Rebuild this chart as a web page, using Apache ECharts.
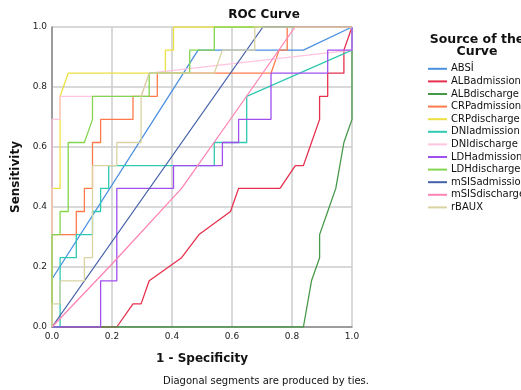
<!DOCTYPE html>
<html>
<head>
<meta charset="utf-8">
<script src="https://cdn.jsdelivr.net/npm/echarts@6/dist/echarts.min.js"></script>
<style>
  html, body { margin: 0; padding: 0; background: #fff; }
  #chart { width: 521px; height: 390px; }
</style>
</head>
<body>
<div id="chart"></div>
<script>
// ROC curves, points are [1 - specificity, sensitivity]
const seriesNames = ['ABSİ', 'ALBadmission', 'ALBdischarge', 'CRPadmission', 'CRPdischarge', 'DNIadmission',
  'DNIdischarge', 'LDHadmission', 'LDHdischarge', 'mSISadmission', 'mSISdischarge', 'rBAUX']
const seriesColors = ['#4a90e2', '#e6304e', '#47994a', '#ff7a4a', '#ece043', '#30c9b2',
  '#ffc4df', '#9f50ee', '#84d650', '#4461aa', '#ff84b6', '#d9d3a2']

const absi = [[0, 0.16], [0.487, 0.923], [0.838, 0.923], [1, 1]]
const albAdmission = [[0, 0], [0.216, 0], [0.27, 0.077], [0.297, 0.077], [0.324, 0.154], [0.432, 0.231],
  [0.49, 0.308], [0.595, 0.385], [0.622, 0.462], [0.76, 0.462], [0.811, 0.538], [0.838, 0.538],
  [0.865, 0.615], [0.892, 0.692], [0.892, 0.769], [0.919, 0.769], [0.919, 0.846], [0.973, 0.846],
  [0.973, 0.923], [1, 1]]
const albDischarge = [[0, 0], [0.838, 0], [0.865, 0.154], [0.892, 0.231], [0.892, 0.308], [0.919, 0.385],
  [0.946, 0.462], [0.973, 0.615], [1, 0.692], [1, 1]]
const crpAdmission = [[0, 0], [0, 0.308], [0.081, 0.308], [0.081, 0.385], [0.108, 0.385], [0.108, 0.462],
  [0.135, 0.462], [0.135, 0.615], [0.162, 0.615], [0.162, 0.692], [0.27, 0.692], [0.27, 0.769],
  [0.351, 0.769], [0.351, 0.846], [0.73, 0.846], [0.757, 0.923], [0.784, 0.923], [0.784, 1], [1, 1]]
const crpDischarge = [[0, 0], [0, 0.462], [0.027, 0.462], [0.027, 0.769], [0.054, 0.846], [0.378, 0.846],
  [0.378, 0.923], [0.405, 0.923], [0.405, 1], [1, 1]]
const dniAdmission = [[0, 0], [0.027, 0], [0.027, 0.231], [0.081, 0.231], [0.081, 0.308], [0.135, 0.308],
  [0.135, 0.385], [0.162, 0.385], [0.162, 0.462], [0.189, 0.462], [0.189, 0.538], [0.541, 0.538],
  [0.541, 0.615], [0.649, 0.615], [0.649, 0.769], [1, 0.923], [1, 1]]
const dniDischarge = [[0, 0], [0, 0.692], [0.027, 0.692], [0.027, 0.769], [0.297, 0.769], [0.324, 0.846],
  [1, 0.923], [1, 1]]
const ldhAdmission = [[0, 0], [0.162, 0], [0.162, 0.154], [0.216, 0.154], [0.216, 0.462], [0.405, 0.462],
  [0.405, 0.538], [0.568, 0.538], [0.568, 0.615], [0.622, 0.615], [0.622, 0.692], [0.73, 0.692],
  [0.73, 0.846], [0.919, 0.846], [0.919, 0.923], [1, 0.923], [1, 1]]
const ldhDischarge = [[0, 0], [0, 0.308], [0.027, 0.308], [0.027, 0.385], [0.054, 0.385], [0.054, 0.615],
  [0.108, 0.615], [0.135, 0.692], [0.135, 0.769], [0.324, 0.769], [0.324, 0.846], [0.459, 0.846],
  [0.459, 0.923], [0.541, 0.923], [0.541, 1], [1, 1]]
const msisAdmission = [[0, 0], [0.703, 1], [1, 1]]
const msisDischarge = [[0, 0], [0.2, 0.21], [0.432, 0.462], [0.6, 0.7], [0.81, 1], [1, 1]]
const rbaux = [[0, 0], [0, 0.077], [0.027, 0.077], [0.027, 0.154], [0.108, 0.154], [0.108, 0.231],
  [0.135, 0.231], [0.135, 0.538], [0.216, 0.538], [0.216, 0.615], [0.297, 0.615], [0.297, 0.769],
  [0.324, 0.846], [0.541, 0.846], [0.568, 0.923], [0.676, 0.923], [0.676, 1], [1, 1]]

const curves = [absi, albAdmission, albDischarge, crpAdmission, crpDischarge, dniAdmission,
  dniDischarge, ldhAdmission, ldhDischarge, msisAdmission, msisDischarge, rbaux]

const font = 'DejaVu Sans'
const chart = echarts.init(document.getElementById('chart'))

const option = {
  animation: false,
  textStyle: { fontFamily: font },
  title: [
    {
      text: 'ROC Curve', left: 259, top: 4, textAlign: 'center',
      textStyle: { fontSize: 12, fontWeight: 'bold', color: '#111', fontFamily: font }
    },
    {
      text: 'Source of the\nCurve', left: 472, top: 29, textAlign: 'center',
      textStyle: { fontSize: 12.5, fontWeight: 'bold', color: '#111', lineHeight: 12, fontFamily: font }
    },
    {
      text: 'Diagonal segments are produced by ties.', left: 261, top: 371, textAlign: 'center',
      textStyle: { fontSize: 10, fontWeight: 'normal', color: '#111', fontFamily: font }
    }
  ],
  legend: {
    orient: 'vertical', left: 428, top: 63, padding: 0,
    icon: 'rect', itemWidth: 19, itemHeight: 2, itemGap: 1,
    textStyle: { fontSize: 10, color: '#111', lineHeight: 11.6, padding: [0, 0, 0, -1] },
    data: seriesNames
  },
  grid: { left: 52, top: 27, width: 300, height: 300 },
  xAxis: {
    type: 'value', min: 0, max: 1, interval: 0.2,
    name: '1 - Specificity', nameLocation: 'middle', nameGap: 26,
    nameTextStyle: { fontSize: 12, fontWeight: 'bold', color: '#111' },
    axisLine: { lineStyle: { color: '#888', width: 1.5 } },
    axisTick: { show: false },
    axisLabel: { fontSize: 9, color: '#222', margin: 5, formatter: v => v.toFixed(1) },
    splitLine: { lineStyle: { color: '#cccccc', width: 1.5 } }
  },
  yAxis: {
    type: 'value', min: 0, max: 1, interval: 0.2,
    name: 'Sensitivity', nameLocation: 'middle', nameGap: 28,
    nameTextStyle: { fontSize: 12, fontWeight: 'bold', color: '#111' },
    axisLine: { show: true, lineStyle: { color: '#888', width: 1.5 } },
    axisTick: { show: false },
    axisLabel: { fontSize: 9, color: '#222', margin: 5, formatter: v => v.toFixed(1) },
    splitLine: { lineStyle: { color: '#cccccc', width: 1.5 } }
  },
  series: seriesNames.map((name, i) => ({
    name: name,
    type: 'line',
    data: curves[i],
    symbol: 'none',
    color: seriesColors[i],
    lineStyle: { width: 1.3, color: seriesColors[i] }
  }))
}

chart.setOption(option)
</script>
</body>
</html>
